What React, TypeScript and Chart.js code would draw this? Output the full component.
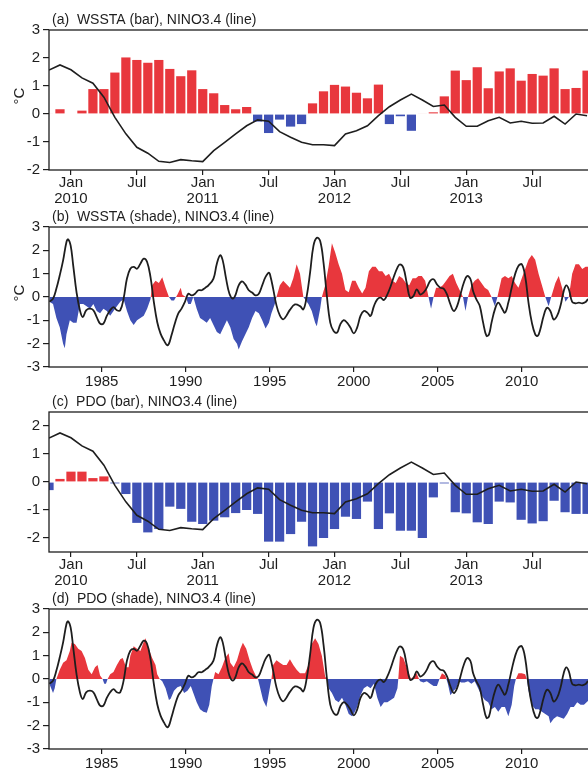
import React, { useEffect, useRef } from 'react';
import { Chart, registerables } from 'chart.js';

Chart.register(...registerables);

const RED = '#E8373D';
const BLUE = '#3F51B5';
const INK = '#1e1e1e';
const FONT = '"Liberation Sans", Arial, Helvetica, sans-serif';

// ---------- Panels (a) and (c): monthly, Nov 2009 – Dec 2013 ----------
const months = [
  '2009-11', '2009-12',
  '2010-01', '2010-02', '2010-03', '2010-04', '2010-05', '2010-06', '2010-07', '2010-08', '2010-09', '2010-10', '2010-11', '2010-12',
  '2011-01', '2011-02', '2011-03', '2011-04', '2011-05', '2011-06', '2011-07', '2011-08', '2011-09', '2011-10', '2011-11', '2011-12',
  '2012-01', '2012-02', '2012-03', '2012-04', '2012-05', '2012-06', '2012-07', '2012-08', '2012-09', '2012-10', '2012-11', '2012-12',
  '2013-01', '2013-02', '2013-03', '2013-04', '2013-05', '2013-06', '2013-07', '2013-08', '2013-09', '2013-10', '2013-11', '2013-12',
];

const wsstaMonthly = [
  0.02, 0.17,
  0.0, 0.12, 0.89, 0.89, 1.48, 2.02, 1.93, 1.83, 1.93, 1.61, 1.35, 1.56,
  0.89, 0.74, 0.32, 0.17, 0.25, -0.27, -0.68, -0.2, -0.45, -0.36, 0.38, 0.81,
  1.04, 0.98, 0.76, 0.56, 1.05, -0.36, -0.08, -0.6, 0.02, 0.06, 0.63, 1.55,
  1.21, 1.67, 0.92, 1.52, 1.63, 1.19, 1.43, 1.37, 1.63, 0.89, 0.93, 1.55,
];

const pdoMonthly = [
  -0.29, 0.11,
  0.37, 0.37, 0.14, 0.2, -0.05, -0.43, -1.46, -1.8, -1.68, -0.88, -0.96, -1.42,
  -1.5, -1.38, -1.26, -1.11, -1.0, -1.14, -2.13, -2.13, -1.86, -1.42, -2.3, -2.0,
  -1.68, -1.24, -1.32, -0.7, -1.68, -1.12, -1.74, -1.74, -2.0, -0.55, -0.05, -1.08,
  -1.12, -1.44, -1.5, -0.7, -0.73, -1.35, -1.48, -1.4, -0.67, -1.08, -1.14, -1.14,
];

const ninoMonthly = [
  1.57, 1.75,
  1.58, 1.29, 1.1, 0.6, -0.12, -0.71, -1.19, -1.4, -1.69, -1.73, -1.63, -1.67,
  -1.7, -1.31, -1.01, -0.71, -0.42, -0.21, -0.26, -0.63, -0.83, -1.01, -1.1, -1.1,
  -1.13, -0.71, -0.6, -0.42, -0.06, 0.26, 0.5, 0.71, 0.5, 0.27, 0.32, -0.12,
  -0.44, -0.44, -0.24, -0.12, -0.32, -0.26, -0.33, -0.32, -0.08, -0.36, 0.0, -0.06,
];

const monthTicks = ['2010-01', '2010-07', '2011-01', '2011-07', '2012-01', '2012-07', '2013-01', '2013-07'];
const monthTickLabels = [['Jan', '2010'], 'Jul', ['Jan', '2011'], 'Jul', ['Jan', '2012'], 'Jul', ['Jan', '2013'], 'Jul'];

// ---------- Panels (b) and (d): 1982 – 2013 ----------
const ninoYears = [
  1981.88, 1982.1, 1982.3, 1982.5, 1982.7, 1982.9, 1983.0, 1983.15, 1983.3, 1983.5, 1983.7, 1983.87,
  1984.07, 1984.3, 1984.5, 1984.7, 1984.9, 1985.1, 1985.3, 1985.5, 1985.7, 1985.9, 1986.1, 1986.3,
  1986.5, 1986.7, 1986.9, 1987.1, 1987.3, 1987.5, 1987.7, 1987.9, 1988.1, 1988.3, 1988.5, 1988.7,
  1988.9, 1989.0, 1989.15, 1989.35, 1989.55, 1989.75, 1989.95, 1990.15, 1990.35, 1990.55, 1990.75, 1990.95,
  1991.15, 1991.35, 1991.65, 1991.85, 1992.05, 1992.2, 1992.4, 1992.6, 1992.8, 1992.95, 1993.15, 1993.35,
  1993.55, 1993.75, 1993.95, 1994.15, 1994.35, 1994.55, 1994.75, 1994.95, 1995.05, 1995.2, 1995.4, 1995.6,
  1995.8, 1996.0, 1996.2, 1996.5, 1996.8, 1997.0, 1997.2, 1997.4, 1997.6, 1997.8, 1998.0, 1998.2,
  1998.4, 1998.6, 1998.8, 1999.0, 1999.2, 1999.4, 1999.6, 1999.8, 2000.0, 2000.2, 2000.4, 2000.6,
  2000.8, 2001.0, 2001.2, 2001.4, 2001.6, 2001.8, 2002.0, 2002.2, 2002.4, 2002.6, 2002.75, 2002.95,
  2003.15, 2003.35, 2003.55, 2003.75, 2003.95, 2004.15, 2004.35, 2004.55, 2004.75, 2004.95, 2005.15, 2005.35,
  2005.55, 2005.75, 2005.95, 2006.15, 2006.35, 2006.55, 2006.75, 2006.95, 2007.1, 2007.3, 2007.5, 2007.7,
  2007.9, 2008.05, 2008.2, 2008.4, 2008.6, 2008.8, 2009.0, 2009.2, 2009.4, 2009.6, 2009.8, 2010.0,
  2010.2, 2010.4, 2010.6, 2010.8, 2010.95, 2011.1, 2011.3, 2011.5, 2011.7, 2011.9, 2012.1, 2012.3,
  2012.5, 2012.65, 2012.8, 2013.0, 2013.2, 2013.4, 2013.6, 2013.8, 2013.95, 2014.15,
];
const ninoSmooth = [
  -0.2, -0.07, 0.36, 0.93, 1.57, 2.36, 2.47, 2.2, 1.36, 0.2, -0.57, -0.86,
  -0.57, -0.5, -0.57, -0.86, -1.14, -1.14, -0.81, -0.57, -0.43, -0.57, -0.57, -0.07,
  0.79, 1.21, 1.29, 1.21, 1.43, 1.64, 1.5, 0.86, -0.21, -1.07, -1.57, -1.86,
  -2.07, -2.0, -1.64, -1.14, -0.71, -0.5, -0.21, 0.14, 0.07, 0.14, 0.29, 0.29,
  0.39, 0.5, 0.79, 1.43, 1.79, 1.57, 0.79, 0.14, -0.07, 0.07, 0.5, 0.67,
  0.53, 0.29, 0.19, 0.07, 0.14, 0.5, 0.86, 1.04, 0.86, 0.36, -0.36, -0.79,
  -0.96, -0.79, -0.55, -0.32, -0.39, -0.53, 0.04, 1.04, 2.19, 2.54, 2.4, 1.47,
  0.04, -1.1, -1.46, -1.53, -1.17, -0.99, -1.1, -1.31, -1.56, -1.31, -0.81, -0.6,
  -0.67, -0.81, -0.39, -0.1, -0.03, -0.13, 0.11, 0.47, 0.9, 1.26, 1.4, 1.26,
  0.61, -0.03, 0.04, 0.33, 0.11, 0.19, 0.4, 0.69, 0.76, 0.54, 0.4, 0.36,
  0.11, -0.31, -0.6, -0.39, 0.11, 0.61, 0.9, 0.76, 0.26, -0.1, -0.39, -1.1,
  -1.67, -1.6, -1.1, -0.53, -0.24, -0.46, -0.67, -0.24, 0.4, 0.97, 1.33, 1.4,
  0.9, -0.24, -1.1, -1.6, -1.67, -1.39, -0.81, -0.46, -0.6, -0.96, -0.81, -0.39,
  0.26, 0.5, 0.33, -0.21, -0.27, -0.24, -0.27, -0.21, -0.1, -0.1,
];

const wsstaYears = [
  1981.88, 1982.1, 1982.3, 1982.5, 1982.7, 1982.8, 1982.9, 1983.1, 1983.3, 1983.5, 1983.7, 1983.9,
  1984.1, 1984.3, 1984.5, 1984.7, 1984.9, 1985.1, 1985.3, 1985.5, 1985.7, 1985.9, 1986.1, 1986.3,
  1986.5, 1986.7, 1986.9, 1987.1, 1987.3, 1987.5, 1987.7, 1987.9, 1988.0, 1988.2, 1988.4, 1988.6,
  1988.8, 1989.0, 1989.15, 1989.3, 1989.5, 1989.7, 1989.8, 1990.0, 1990.15, 1990.3, 1990.45, 1990.65,
  1990.85, 1991.05, 1991.25, 1991.45, 1991.65, 1991.85, 1992.05, 1992.25, 1992.45, 1992.65, 1992.85, 1993.05,
  1993.15, 1993.35, 1993.55, 1993.75, 1993.95, 1994.15, 1994.35, 1994.55, 1994.75, 1994.95, 1995.1, 1995.3,
  1995.4, 1995.6, 1995.8, 1996.0, 1996.2, 1996.4, 1996.6, 1996.8, 1997.0, 1997.3, 1997.5, 1997.7,
  1997.8, 1998.0, 1998.1, 1998.3, 1998.5, 1998.7, 1998.9, 1999.1, 1999.3, 1999.5, 1999.7, 1999.9,
  2000.1, 2000.3, 2000.5, 2000.7, 2000.9, 2001.1, 2001.3, 2001.5, 2001.7, 2001.9, 2002.1, 2002.3,
  2002.5, 2002.7, 2002.9, 2003.1, 2003.3, 2003.5, 2003.7, 2003.85, 2004.05, 2004.25, 2004.45, 2004.6,
  2004.75, 2004.9, 2005.1, 2005.3, 2005.5, 2005.7, 2005.9, 2006.1, 2006.3, 2006.5, 2006.65, 2006.8,
  2007.0, 2007.2, 2007.4, 2007.6, 2007.8, 2008.0, 2008.2, 2008.4, 2008.55, 2008.8, 2009.0, 2009.2,
  2009.4, 2009.6, 2009.8, 2010.0, 2010.2, 2010.4, 2010.6, 2010.8, 2011.0, 2011.2, 2011.4, 2011.6,
  2011.75, 2012.0, 2012.2, 2012.4, 2012.6, 2012.8, 2013.0, 2013.2, 2013.4, 2013.6, 2013.8, 2014.0, 2014.2,
];
const wsstaShade = [
  -0.2, -0.3, -0.9, -1.3, -2.0, -2.2, -1.6, -1.0, -1.1, -1.1, -0.3, -0.3,
  -0.4, -0.5, -0.3, -0.6, -0.7, -0.5, -0.6, -0.8, -0.6, -0.4, -0.2, -0.1,
  -0.6, -1.0, -1.2, -1.0, -0.9, -0.8, -0.5, -0.1, 0.5, 0.7, 0.6, 0.85,
  0.4, 0.0, -0.15, -0.15, 0.1, 0.4, 0.1, 0.0, -0.3, -0.3, 0.0, -0.5,
  -0.9, -1.0, -1.1, -0.9, -1.2, -1.5, -1.6, -1.3, -1.0, -1.3, -1.8, -2.0,
  -2.25, -1.9, -1.6, -1.3, -0.9, -0.6, -0.7, -1.0, -1.35, -1.1, -0.7, -0.3,
  0.0, 0.5, 0.7, 0.55, 0.4, 0.8, 1.4, 1.0, 0.0, -0.3, -0.6, -1.1,
  -1.25, -0.5, 0.0, 0.5, 1.3, 2.3, 1.9, 1.4, 1.0, 0.3, 0.2, 0.7,
  0.7, 0.4, 0.15, 0.4, 1.1, 1.3, 1.3, 1.1, 1.1, 0.9, 1.0, 0.7,
  0.6, 0.9, 0.8, 0.6, 0.5, 0.8, 0.8, 0.9, 0.9, 0.7, 0.0, -0.5,
  0.0, 0.4, 0.4, 0.5, 0.7, 0.9, 1.0, 0.6, 0.3, 0.0, -0.6, 0.0,
  0.5, 0.7, 0.8, 0.6, 0.4, 0.3, 0.0, -0.4, 0.0, 0.8, 0.9, 0.8,
  0.9, 0.6, 0.4, 0.8, 1.2, 1.6, 1.8, 1.6, 1.0, 0.5, 0.0, -0.4,
  0.0, 0.6, 0.9, 0.4, -0.2, 0.0, 1.0, 1.4, 1.4, 1.2, 1.3, 1.3, 1.3,
];

const pdoYears = [
  1981.88, 1982.1, 1982.2, 1982.3, 1982.5, 1982.7, 1982.9, 1983.1, 1983.2, 1983.4, 1983.6, 1983.8,
  1984.0, 1984.2, 1984.4, 1984.6, 1984.75, 1984.9, 1985.05, 1985.15, 1985.25, 1985.35, 1985.5, 1985.7,
  1985.9, 1986.1, 1986.25, 1986.45, 1986.6, 1986.7, 1986.9, 1987.1, 1987.3, 1987.5, 1987.6, 1987.8,
  1988.0, 1988.2, 1988.3, 1988.45, 1988.6, 1988.8, 1989.0, 1989.1, 1989.3, 1989.5, 1989.7, 1989.9,
  1990.1, 1990.3, 1990.45, 1990.65, 1990.85, 1991.05, 1991.25, 1991.4, 1991.55, 1991.65, 1991.75, 1991.95,
  1992.15, 1992.35, 1992.55, 1992.65, 1992.85, 1993.05, 1993.25, 1993.4, 1993.6, 1993.8, 1994.0, 1994.2,
  1994.3, 1994.4, 1994.6, 1994.8, 1994.9, 1995.05, 1995.1, 1995.2, 1995.4, 1995.6, 1995.8, 1996.0,
  1996.2, 1996.4, 1996.6, 1996.8, 1997.1, 1997.3, 1997.5, 1997.7, 1997.9, 1998.1, 1998.3, 1998.4,
  1998.5, 1998.7, 1998.9, 1999.1, 1999.3, 1999.5, 1999.7, 1999.9, 2000.0, 2000.2, 2000.4, 2000.6,
  2000.8, 2001.0, 2001.2, 2001.4, 2001.6, 2001.8, 2002.0, 2002.2, 2002.4, 2002.6, 2002.65, 2002.75,
  2002.95, 2003.1, 2003.25, 2003.4, 2003.55, 2003.7, 2003.85, 2003.95, 2004.15, 2004.35, 2004.55, 2004.75,
  2004.95, 2005.1, 2005.25, 2005.45, 2005.6, 2005.75, 2005.95, 2006.1, 2006.25, 2006.4, 2006.6, 2006.8,
  2007.0, 2007.2, 2007.4, 2007.6, 2007.8, 2008.0, 2008.2, 2008.4, 2008.6, 2008.8, 2009.0, 2009.2,
  2009.4, 2009.55, 2009.65, 2009.8, 2010.0, 2010.2, 2010.3, 2010.4, 2010.6, 2010.8, 2011.0, 2011.2,
  2011.4, 2011.6, 2011.7, 2011.9, 2012.1, 2012.3, 2012.5, 2012.7, 2012.9, 2013.1, 2013.3, 2013.5,
  2013.7, 2014.0, 2014.2,
];
const pdoShade = [
  -0.2, -0.6, -0.4, 0.0, 0.4, 0.7, 0.8, 1.2, 1.55, 1.5, 1.3, 1.2,
  0.9, 0.4, 0.2, 0.5, 0.6, 0.15, 0.0, -0.2, -0.2, 0.0, 0.2, 0.3,
  0.6, 0.85, 0.9, 0.5, 0.5, 1.0, 1.4, 1.3, 1.2, 1.6, 1.75, 1.3,
  0.9, 0.6, 0.2, 0.0, -0.1, -0.4, -0.9, -0.85, -0.5, -0.35, -0.3, -0.6,
  -0.5, -0.3, -0.6, -1.0, -1.3, -1.4, -1.45, -1.1, -0.3, 0.0, 0.3, 0.2,
  0.5, 0.9, 1.1, 0.7, 0.5, 0.8, 1.3, 1.55, 1.3, 0.8, 0.4, 0.1,
  0.0, -0.3, -0.9, -1.2, -0.8, -0.2, 0.0, 0.6, 0.8, 0.7, 0.6, 0.6,
  0.85, 0.6, 0.4, 0.25, 0.25, 0.6, 1.5, 1.75, 1.5, 1.0, 0.1, 0.0,
  -0.4, -0.6, -0.9, -1.0, -0.8, -1.1, -1.5, -1.6, -1.5, -1.2, -0.7, -0.4,
  -0.3, -0.4, -0.2, -0.8, -1.2, -1.0, -1.0, -0.9, -0.8, -0.4, 0.0, 1.0,
  0.9, 0.6, 0.3, 0.0, 0.1, 0.3, 0.05, -0.1, -0.15, -0.1, -0.2, -0.3,
  -0.3, 0.0, 0.25, 0.15, -0.2, -0.7, -0.5, -0.4, -0.1, -0.15, -0.15, -0.1,
  -0.2, -0.1, -0.4, -0.7, -0.9, -1.0, -1.3, -1.2, -1.4, -1.2, -1.2, -1.6,
  -1.1, -0.3, 0.0, 0.25, 0.25, 0.2, 0.0, -0.5, -1.1, -1.3, -1.3, -1.4,
  -1.5, -1.6, -1.9, -1.7, -1.6, -1.65, -1.7, -1.5, -1.2, -1.2, -1.0, -1.1,
  -1.1, -0.9, -0.9,
];

const yearTicks = [1985, 1990, 1995, 2000, 2005, 2010];

// ---------- helpers ----------
const monthIndex = (s: string) => {
  const [y, m] = s.split('-').map(Number);
  return (y - 2010) * 12 + (m - 1);
};
const pts = (xs: number[], ys: number[]) => xs.map((x, i) => ({ x, y: ys[i] }));

const framePlugin = {
  id: 'frame',
  afterDatasetsDraw(chart: any, _args: any, opts: any) {
    const { ctx, chartArea: a } = chart;
    ctx.save();
    ctx.strokeStyle = INK;
    ctx.lineWidth = 1.3;
    ctx.strokeRect(a.left, a.top, a.right - a.left, a.bottom - a.top);
    ctx.fillStyle = INK;
    ctx.font = `14px ${FONT}`;
    ctx.textBaseline = 'middle';
    ctx.textAlign = 'left';
    ctx.fillText(opts.title, a.left + 3, a.top - 10);
    if (opts.unit) {
      ctx.translate(20, (a.top + a.bottom) / 2 - 4);
      ctx.rotate(-Math.PI / 2);
      ctx.textAlign = 'center';
      ctx.font = `15px ${FONT}`;
      ctx.fillText(opts.unit, 0, 0);
    }
    ctx.restore();
  },
};

const yAxis = (min: number, max: number, tickVals: number[]) => ({
  type: 'linear',
  min,
  max,
  afterBuildTicks: (s: any) => {
    s.ticks = tickVals.map((v) => ({ value: v }));
  },
  afterFit: (s: any) => {
    s.width = 49;
  },
  ticks: { font: { size: 15, family: FONT }, color: INK, padding: 3 },
  grid: { drawOnChartArea: false, drawTicks: true, tickLength: 6, color: INK, lineWidth: 1.2 },
  border: { display: false },
});

const xAxisBase = {
  type: 'linear',
  offset: false,
  afterFit: (s: any) => {
    s.height = 45;
  },
  grid: { offset: false, drawOnChartArea: false, drawTicks: true, tickLength: 5, color: INK, lineWidth: 1.2 },
  border: { display: false },
};

const signColor = (c: any) => (c.raw && c.raw.y < 0 ? BLUE : RED);

function monthlyConfig(barVals: number[], yMin: number, yMax: number, yTicks: number[], title: string, unit?: string) {
  return {
    type: 'bar',
    data: {
      datasets: [
        {
          type: 'line',
          data: pts(months.map(monthIndex), ninoMonthly),
          borderColor: INK,
          borderWidth: 1.6,
          pointRadius: 0,
          tension: 0,
          fill: false,
        },
        {
          type: 'bar',
          data: pts(months.map(monthIndex), barVals),
          backgroundColor: signColor,
          borderWidth: 0,
          barPercentage: 0.84,
          categoryPercentage: 1,
        },
      ],
    },
    options: {
      responsive: false,
      animation: false,
      layout: { padding: { top: 30, right: 8, left: 0, bottom: 0 } },
      plugins: { legend: { display: false }, tooltip: { enabled: false }, frame: { title, unit } },
      scales: {
        x: {
          ...xAxisBase,
          min: -2,
          max: 47.45,
          afterBuildTicks: (s: any) => {
            s.ticks = monthTicks.map((m) => ({ value: monthIndex(m) }));
          },
          ticks: {
            font: { size: 15, family: FONT, lineHeight: 1.05 },
            color: INK,
            padding: 0,
            maxRotation: 0,
            autoSkip: false,
            callback: (_v: any, i: number) => monthTickLabels[i],
          },
        },
        y: yAxis(yMin, yMax, yTicks),
      },
    },
    plugins: [framePlugin],
  };
}

function yearlyConfig(shadeX: number[], shadeY: number[], title: string, unit?: string) {
  return {
    type: 'line',
    data: {
      datasets: [
        {
          data: pts(ninoYears, ninoSmooth),
          borderColor: INK,
          borderWidth: 1.8,
          pointRadius: 0,
          tension: 0.4,
          fill: false,
        },
        {
          data: pts(shadeX, shadeY),
          borderWidth: 0,
          borderColor: 'rgba(0,0,0,0)',
          pointRadius: 0,
          tension: 0,
          fill: { target: 'origin', above: RED, below: BLUE },
        },
      ],
    },
    options: {
      responsive: false,
      animation: false,
      layout: { padding: { top: 30, right: 8, left: 0, bottom: 0 } },
      plugins: { legend: { display: false }, tooltip: { enabled: false }, frame: { title, unit } },
      scales: {
        x: {
          ...xAxisBase,
          min: 1981.86,
          max: 2014.18,
          afterBuildTicks: (s: any) => {
            s.ticks = yearTicks.map((v) => ({ value: v }));
          },
          ticks: {
            font: { size: 15, family: FONT },
            color: INK,
            padding: 1,
            maxRotation: 0,
            autoSkip: false,
            callback: (v: any) => String(v),
          },
        },
        y: yAxis(-3, 3, [-3, -2, -1, 0, 1, 2, 3]),
      },
    },
    plugins: [framePlugin],
  };
}

function Panel({ top, make }: { top: number; make: () => any }) {
  const ref = useRef<HTMLCanvasElement | null>(null);
  useEffect(() => {
    if (!ref.current) return;
    const chart = new Chart(ref.current, make());
    return () => chart.destroy();
  }, []);
  return (
    <canvas
      ref={ref}
      width={600}
      height={215}
      style={{ position: 'absolute', left: 0, top, width: 600, height: 215 }}
    />
  );
}

export default function App() {
  Chart.defaults.font.family = FONT;
  return (
    <div
      style={{
        position: 'fixed',
        left: 0,
        top: 0,
        width: 588,
        height: 770,
        overflow: 'hidden',
        background: '#fff',
      }}
    >
      <Panel
        top={0}
        make={() => monthlyConfig(wsstaMonthly, -2, 3, [-2, -1, 0, 1, 2, 3], '(a)  WSSTA (bar), NINO3.4 (line)', '°C')}
      />
      <Panel top={197} make={() => yearlyConfig(wsstaYears, wsstaShade, '(b)  WSSTA (shade), NINO3.4 (line)', '°C')} />
      <Panel
        top={382}
        make={() => monthlyConfig(pdoMonthly, -2.5, 2.5, [-2, -1, 0, 1, 2], '(c)  PDO (bar), NINO3.4 (line)')}
      />
      <Panel top={579} make={() => yearlyConfig(pdoYears, pdoShade, '(d)  PDO (shade), NINO3.4 (line)')} />
    </div>
  );
}
